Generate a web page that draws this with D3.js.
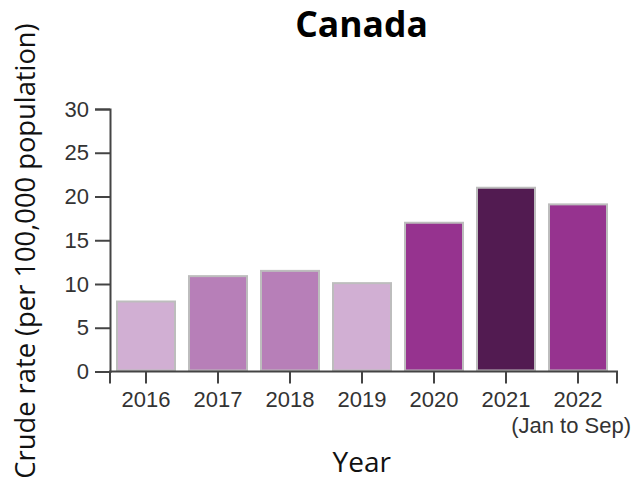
<!DOCTYPE html>
<html>
<head>
<meta charset="utf-8">
<script src="https://cdn.jsdelivr.net/npm/d3@7"></script>
<style>
  html, body { margin: 0; padding: 0; background: #fff; }
  svg { display: block; }
</style>
</head>
<body>
<svg id="chart" width="636" height="479"></svg>
<script>
const years = ["2016", "2017", "2018", "2019", "2020", "2021", "2022"];
const rates = [8.0, 10.9, 11.5, 10.1, 17.0, 21.0, 19.1];
const barColors = ["#d1afd3", "#b77fb8", "#b77fb8", "#d1afd3", "#96338f", "#521b51", "#96338f"];
const yTicks = [0, 5, 10, 15, 20, 25, 30];
const title = "Canada";
const xTitle = "Year";
const yTitle = "Crude rate (per 100,000 population)";
const note2022 = "(Jan to Sep)";

(function () {
const svg = d3.select("#chart");
const mLeft = 110, mRight = 614, mTop = 109, mBottom = 371.5;
const tickFont = "Liberation Sans, Arial, sans-serif";
const tickSize = 22;

const x = d3.scaleBand().domain(years).range([mLeft, mRight]).padding(0);
const y = d3.scaleLinear().domain([0, 30]).range([mBottom, mTop]);

// bars
svg.append("g").selectAll("rect")
  .data(years.map((yr, i) => ({ yr, v: rates[i], c: barColors[i] })))
  .join("rect")
  .attr("x", d => x(d.yr) + 7)
  .attr("width", x.bandwidth() - 14)
  .attr("y", d => y(d.v))
  .attr("height", d => y(0) - y(d.v) - 1)
  .attr("fill", d => d.c)
  .attr("stroke", "#bdbdbd")
  .attr("stroke-width", 2);

// y axis
const gy = svg.append("g").attr("transform", `translate(${mLeft},0)`)
  .call(d3.axisLeft(y).tickValues(yTicks).tickSize(15).tickPadding(6));
gy.select(".domain").attr("stroke", "#444").attr("stroke-width", 2);
gy.selectAll(".tick line").attr("stroke", "#444").attr("stroke-width", 2);
gy.selectAll(".tick text").attr("font-family", tickFont)
  .attr("font-size", tickSize).attr("fill", "#333");

// x axis
const gx = svg.append("g").attr("transform", `translate(0,${mBottom})`)
  .call(d3.axisBottom(x).tickSize(12).tickSizeOuter(12).tickPadding(8));
gx.select(".domain").attr("d", `M${mLeft},12V0H${mRight + 3}V12`)
  .attr("stroke", "#444").attr("stroke-width", 2);
gx.selectAll(".tick line").attr("stroke", "#444").attr("stroke-width", 2);
gx.selectAll(".tick text").attr("font-family", tickFont)
  .attr("font-size", tickSize).attr("fill", "#333");

gx.append("text")
  .attr("x", x("2022") + x.bandwidth() / 2 + 53)
  .attr("y", 61.5)
  .attr("text-anchor", "end")
  .attr("font-family", tickFont)
  .attr("font-size", tickSize).attr("fill", "#333")
  .text(note2022);

// titles
svg.append("text")
  .attr("x", 361.5).attr("y", 37.3)
  .attr("text-anchor", "middle")
  .attr("font-family", "Open Sans, sans-serif")
  .attr("font-weight", "bold")
  .attr("font-size", 35.5)
  .attr("fill", "#000")
  .text(title);

svg.append("text")
  .attr("x", 361.7).attr("y", 472)
  .attr("text-anchor", "middle")
  .attr("font-family", "Open Sans, sans-serif")
  .attr("font-size", 28)
  .attr("fill", "#111")
  .text(xTitle);

svg.append("text")
  .attr("transform", "translate(35,251) rotate(-90)")
  .attr("text-anchor", "middle")
  .attr("font-family", "Open Sans, sans-serif")
  .attr("font-size", 27.3)
  .attr("fill", "#111")
  .text(yTitle);
})();
</script>
</body>
</html>
